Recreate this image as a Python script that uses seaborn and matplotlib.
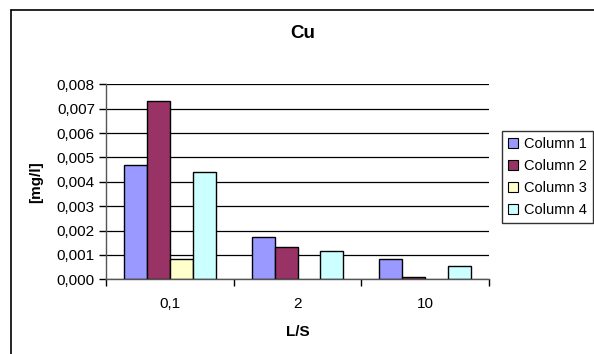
import numpy as np
import pandas as pd
import matplotlib
matplotlib.use("Agg")
import matplotlib.pyplot as plt
import seaborn as sns
from matplotlib.lines import Line2D
from matplotlib.ticker import FixedLocator, FuncFormatter

categories = ["0,1", "2", "10"]
series_names = ["Column 1", "Column 2", "Column 3", "Column 4"]
col1 = [0.0047, 0.00172, 0.00083]
col2 = [0.0073, 0.00133, 0.0001]
col3 = [0.00083, np.nan, np.nan]
col4 = [0.0044, 0.00116, 0.00054]
colors = ["#9999FF", "#993366", "#FFFFCC", "#CCFFFF"]

rows = []
for name, vals in zip(series_names, [col1, col2, col3, col4]):
    for c, v in zip(categories, vals):
        rows.append({"L/S": c, "value": v, "series": name})
df = pd.DataFrame(rows)

sns.set_style("white")
plt.rcParams["font.family"] = ["Liberation Sans", "DejaVu Sans"]
plt.rcParams["text.color"] = "black"
plt.rcParams["xtick.color"] = "black"
plt.rcParams["ytick.color"] = "black"
plt.rcParams["axes.labelcolor"] = "black"

W, H = 594, 354
fig = plt.figure(figsize=(W / 100, H / 100), dpi=100)
ax = fig.add_axes([106 / W, 1 - 279.3 / H, (489 - 106) / W, (279.3 - 84.3) / H])

sns.barplot(data=df, x="L/S", y="value", hue="series", order=categories,
            hue_order=series_names, palette=colors, width=0.72, gap=0,
            edgecolor="black", linewidth=1, saturation=1, ax=ax, legend=False,
            errorbar=None)

ax.set_ylim(0, 0.008)
ax.set_xlim(-0.5, 2.5)
ax.yaxis.set_major_locator(FixedLocator(np.arange(0, 0.0081, 0.001)))
ax.yaxis.set_major_formatter(FuncFormatter(lambda v, p: f"{v:.3f}".replace(".", ",")))
ax.grid(axis="y", color="black", linewidth=0.9)
ax.set_axisbelow(True)

ax.xaxis.set_major_locator(FixedLocator([-0.5, 0.5, 1.5, 2.5]))
ax.xaxis.set_major_formatter(FuncFormatter(lambda v, p: ""))
ax.xaxis.set_minor_locator(FixedLocator([0, 1, 2]))
ax.set_xticklabels(categories, minor=True)
ax.tick_params(axis="x", which="major", direction="out", length=5, width=1, color="black", bottom=True)
ax.tick_params(axis="x", which="minor", length=0, pad=13, labelsize=11, labelcolor="black")
ax.tick_params(axis="y", direction="out", length=5, width=1, color="black", left=True, labelsize=11, pad=3, labelcolor="black")

for s in ["top", "right"]:
    ax.spines[s].set_visible(False)
for s in ["left", "bottom"]:
    ax.spines[s].set_color("#555555")
    ax.spines[s].set_linewidth(1)

ax.set_xlabel("")
ax.set_ylabel("")
fig.text(303 / W, 1 - 34 / H, "Cu", ha="center", va="center", fontsize=13.5, fontweight="bold", color="black")
fig.text(36 / W, 1 - 182 / H, "[mg/l]", ha="center", va="center", rotation=90, fontsize=11, fontweight="bold", color="black")
fig.text(298 / W, 1 - 332 / H, "L/S", ha="center", va="center", fontsize=11, fontweight="bold", color="black")

handles = [matplotlib.patches.Patch(facecolor=c, edgecolor="black", linewidth=0.8) for c in colors]
leg = fig.legend(handles, series_names, loc="upper left",
                 bbox_to_anchor=(502 / W, 1 - 131 / H), bbox_transform=fig.transFigure,
                 borderaxespad=0, fontsize=10.5, handlelength=0.7, handleheight=0.7,
                 handletextpad=0.4, labelspacing=0.55, borderpad=0.4, fancybox=False,
                 frameon=True)
leg.get_frame().set_edgecolor("black")
leg.get_frame().set_linewidth(1)
for t in leg.get_texts():
    t.set_color("black")

# outer chart border (top and left visible)
fig.add_artist(Line2D([11 / W, 1.0], [1 - 10 / H, 1 - 10 / H], transform=fig.transFigure, color="black", linewidth=1.2))
fig.add_artist(Line2D([11 / W, 11 / W], [0.0, 1 - 10 / H], transform=fig.transFigure, color="black", linewidth=1.2))

fig.savefig("out.png", dpi=100)
